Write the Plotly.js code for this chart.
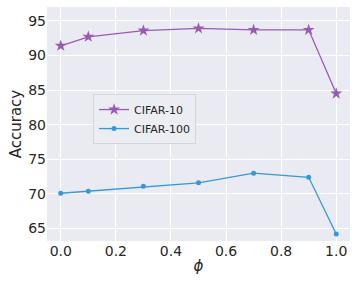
<!DOCTYPE html>
<html><head><meta charset="utf-8">
<script src="https://cdn.plot.ly/plotly-3.0.1.min.js"></script>
<style>html,body{margin:0;padding:0;background:#fff}#c{width:357px;height:286px}</style>
</head><body><div id="c"></div>
<script>
const phi = [0.0, 0.1, 0.3, 0.5, 0.7, 0.9, 1.0];
const cifar10 = [91.4, 92.7, 93.6, 93.9, 93.7, 93.7, 84.5];
const cifar100 = [70.1, 70.4, 71.1, 71.6, 73.0, 72.4, 64.2];
const xTicks = [0.0, 0.2, 0.4, 0.6, 0.8, 1.0];
const xTickText = ['0.0', '0.2', '0.4', '0.6', '0.8', '1.0'];
const yTicks = [65, 70, 75, 80, 85, 90, 95];

const font = {family: 'DejaVu Sans', size: 14, color: '#262626'};
const traces = [
  {x: phi, y: cifar10, name: 'CIFAR-10', mode: 'lines+markers', type: 'scatter',
   line: {color: '#9b59b6', width: 1.3}, marker: {symbol: 'star', size: 9, color: '#9b59b6'}},
  {x: phi, y: cifar100, name: 'CIFAR-100', mode: 'lines+markers', type: 'scatter',
   line: {color: '#3498db', width: 1.3}, marker: {symbol: 'circle', size: 5, color: '#3498db'}}
];
const layout = {
  width: 357, height: 286,
  margin: {l: 47, r: 7, t: 7, b: 45},
  paper_bgcolor: '#ffffff', plot_bgcolor: '#EAEAF2',
  font: font,
  showlegend: true,
  legend: {x: 0.152, y: 0.628, xanchor: 'left', yanchor: 'top',
    bgcolor: 'rgba(236,236,243,0.9)', bordercolor: '#d4d4dc', borderwidth: 1,
    font: {family: 'DejaVu Sans', size: 11, color: '#262626'}, tracegroupgap: 2},
  xaxis: {range: [-0.05, 1.05], tickvals: xTicks, ticktext: xTickText,
    showgrid: true, gridcolor: '#ffffff', gridwidth: 1, zeroline: false, showline: false,
    ticks: '', ticklen: 0, title: {text: '<i>ϕ</i>', font: {family: 'DejaVu Sans', size: 15}, standoff: 2}},
  yaxis: {range: [63.2, 97.0], tickvals: yTicks,
    showgrid: true, gridcolor: '#ffffff', gridwidth: 1, zeroline: false, showline: false,
    ticks: '', ticklen: 0, title: {text: 'Accuracy', font: {family: 'DejaVu Sans', size: 15}, standoff: 2}}
};
Plotly.newPlot('c', traces, layout, {displayModeBar: false, staticPlot: true});
</script></body></html>
